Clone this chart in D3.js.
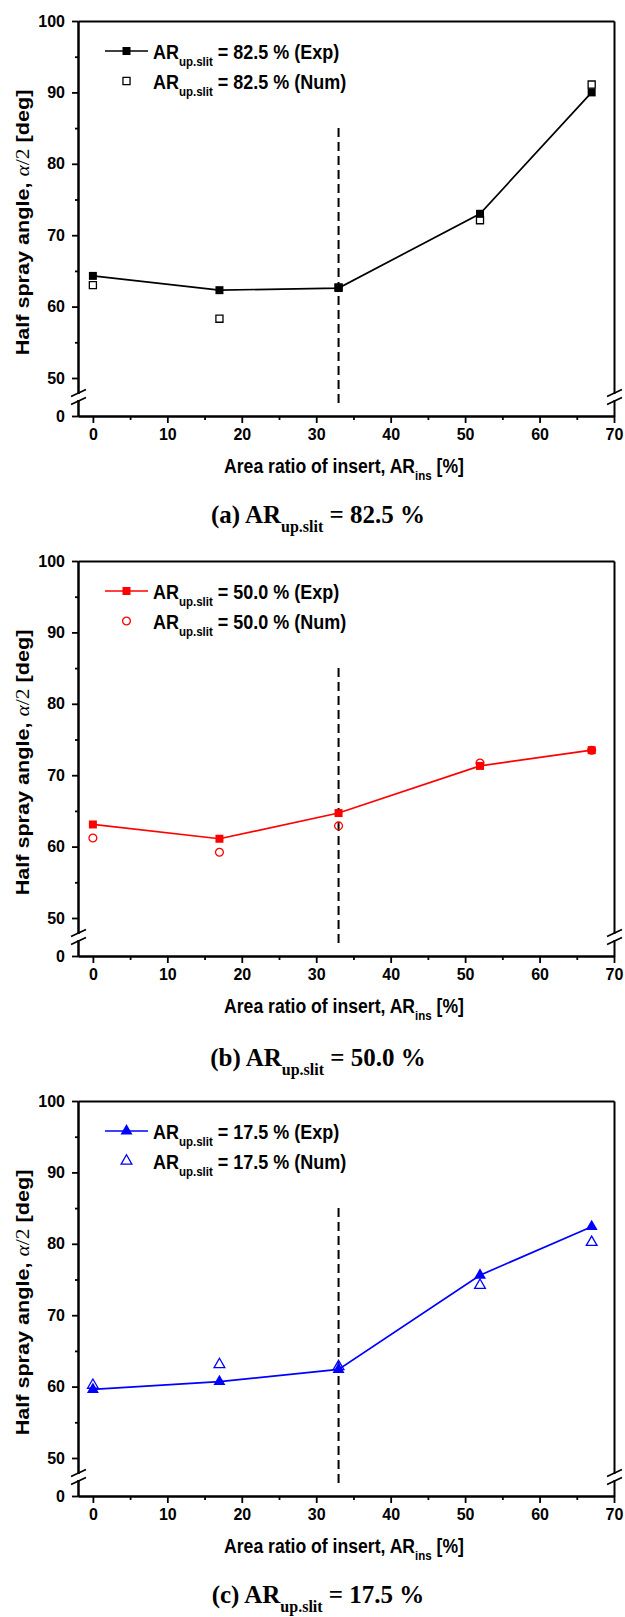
<!DOCTYPE html>
<html>
<head>
<meta charset="utf-8">
<script src="https://cdn.jsdelivr.net/npm/d3@7"></script>
<style>
  body { margin: 0; background: #fff; }
  svg { display: block; }
  .tick text { font-family: 'Liberation Sans', Arial, sans-serif; font-weight: bold; font-size: 16px; fill: #000; }
  .tick line { stroke: #000; stroke-width: 1.8px; }
  .domain { stroke: #000; stroke-width: 2px; }
</style>
</head>
<body>
<div id="chart"></div>
<script>
// area ratio of insert, same for the three slit cases
const arIns = [0, 17, 33, 52, 67]

// half spray angle [deg]
const expA = [64.3, 62.3, 62.6, 73.0, 90.0]
const numA = [63.0, 58.3, 62.7, 72.1, 91.1]
const expB = [63.1, 61.1, 64.7, 71.3, 73.5]
const numB = [61.2, 59.2, 62.9, 71.7, 73.5]
const expC = [59.6, 60.7, 62.4, 75.6, 82.4]
const numC = [60.2, 63.1, 62.8, 74.2, 80.2]

const slitLabels = ['82.5', '50.0', '17.5']
const panelTags = ['(a)', '(b)', '(c)']

const xTicks = [0, 10, 20, 30, 40, 50, 60, 70]
const xMinor = [5, 15, 25, 35, 45, 55, 65]
const yTicks = [0, 50, 60, 70, 80, 90, 100]
const yMinor = [55, 65, 75, 85, 95]
const dashX = 33
const dashSpan = [16, 85]

const colors = ['#000000', '#ff0000', '#0000ff']
const expShapes = [d3.symbolSquare, d3.symbolSquare, d3.symbolTriangle]
const numShapes = [d3.symbolSquare, d3.symbolCircle, d3.symbolTriangle]
const expSize = [64, 64, 62]
const numSize = [50, 48, 50]

const panels = [
  {exp: expA, num: numA},
  {exp: expB, num: numB},
  {exp: expC, num: numC}
].map((p, i) => ({...p, slit: slitLabels[i], tag: panelTags[i], color: colors[i]}))

const width = 625, height = 1617
const margin = {left: 78}
const plotW = 536, plotH = 395
const panelTops = [21, 561, 1101]
const captionY = [523, 1066, 1603]
const sans = "'Liberation Sans', Arial, sans-serif"
const serif = "'Liberation Serif', 'Times New Roman', serif"

const svg = d3.select('#chart').append('svg')
  .attr('width', width)
  .attr('height', height)

const x = d3.scaleLinear().domain([-2, 70]).range([0, plotW])
// broken axis: 0..50 squeezed into the gap at the bottom
const y = d3.scaleLinear().domain([0, 50, 100]).range([plotH, plotH - 38, 0])

function subText(sel, parts, size, subSize) {
  // parts: [main, sub, rest]
  sel.append('tspan').attr('font-size', size).text(parts[0])
  sel.append('tspan').attr('font-size', subSize).attr('dy', size * 0.34).text(parts[1])
  sel.append('tspan').attr('font-size', size).attr('dy', -size * 0.34).text(parts[2])
}

panels.forEach((p, i) => {
  const g = svg.append('g')
    .attr('transform', `translate(${margin.left}, ${panelTops[i]})`)

  // frame: top and right without ticks
  g.append('g').call(d3.axisTop(x).tickValues([]).tickSizeOuter(0))
  g.append('g').attr('transform', `translate(${plotW}, 0)`)
    .call(d3.axisRight(y).tickValues([]).tickSizeOuter(0))

  // x axis
  g.append('g').attr('transform', `translate(0, ${plotH})`)
    .call(d3.axisBottom(x).tickValues(xMinor).tickSize(4).tickFormat('').tickSizeOuter(0))
  g.append('g').attr('transform', `translate(0, ${plotH})`)
    .call(d3.axisBottom(x).tickValues(xTicks).tickSize(7).tickPadding(6).tickSizeOuter(0))

  // y axis
  g.append('g')
    .call(d3.axisLeft(y).tickValues(yMinor).tickSize(3).tickFormat('').tickSizeOuter(0))
  g.append('g')
    .call(d3.axisLeft(y).tickValues(yTicks).tickSize(6).tickPadding(7).tickSizeOuter(0))

  // break marks on both vertical axes
  const yb = y(25)
  ;[0, plotW].forEach(bx => {
    g.append('rect')
      .attr('x', bx - 3).attr('y', yb - 3)
      .attr('width', 6).attr('height', 6)
      .attr('fill', '#fff')
    ;[-4, 4].forEach(off => {
      g.append('line')
        .attr('x1', bx - 7).attr('y1', yb + off + 3.5)
        .attr('x2', bx + 8).attr('y2', yb + off - 3.5)
        .attr('stroke', '#000').attr('stroke-width', 1.8)
    })
  })

  // dashed marker line
  g.append('line')
    .attr('x1', x(dashX)).attr('x2', x(dashX))
    .attr('y1', y(dashSpan[1])).attr('y2', y(dashSpan[0]))
    .attr('stroke', '#000').attr('stroke-width', 2)
    .attr('stroke-dasharray', '9,5')

  const pts = arIns.map((a, k) => ({a, exp: p.exp[k], num: p.num[k]}))

  g.append('path')
    .datum(pts)
    .attr('fill', 'none')
    .attr('stroke', p.color)
    .attr('stroke-width', 1.7)
    .attr('d', d3.line().x(d => x(d.a)).y(d => y(d.exp)))

  const sym = d3.symbol().type(expShapes[i]).size(expSize[i])
  g.selectAll('.exp')
    .data(pts)
    .enter().append('path')
    .attr('class', 'exp')
    .attr('transform', d => `translate(${x(d.a)}, ${y(d.exp)})`)
    .attr('d', sym)
    .attr('fill', p.color)

  const symOpen = d3.symbol().type(numShapes[i]).size(numSize[i])
  g.selectAll('.num')
    .data(pts)
    .enter().append('path')
    .attr('class', 'num')
    .attr('transform', d => `translate(${x(d.a)}, ${y(d.num)})`)
    .attr('d', symOpen)
    .attr('fill', 'none')
    .attr('stroke', p.color)
    .attr('stroke-width', 1.3)

  // legend
  const lg = g.append('g').attr('transform', 'translate(27, 30)')
  lg.append('line')
    .attr('x1', 0).attr('x2', 43).attr('y1', 0).attr('y2', 0)
    .attr('stroke', p.color).attr('stroke-width', 1.7)
  lg.append('path').attr('transform', 'translate(21.5, 0)').attr('d', sym).attr('fill', p.color)
  lg.append('path').attr('transform', 'translate(21.5, 30)').attr('d', symOpen)
    .attr('fill', 'none').attr('stroke', p.color).attr('stroke-width', 1.3)
  ;['Exp', 'Num'].forEach((kind, r) => {
    lg.append('text')
      .attr('transform', `translate(48, ${8 + r * 30}) scale(1, 1.15)`)
      .attr('font-family', sans).attr('font-weight', 'bold')
      .call(subText, ['AR', 'up.slit', ` = ${p.slit} % (${kind})`], 18, 11.5)
  })

  // axis titles
  g.append('text')
    .attr('transform', `translate(${plotW / 2 - 2}, 452) scale(1, 1.1)`)
    .attr('text-anchor', 'middle')
    .attr('font-family', sans).attr('font-weight', 'bold')
    .call(subText, ['Area ratio of insert, AR', 'ins', ' [%]'], 17.6, 11.5)

  const yt = g.append('text')
    .attr('transform', `translate(-49, ${plotH / 2 + 4}) rotate(-90) scale(1.2, 1)`)
    .attr('text-anchor', 'middle')
    .attr('font-family', sans).attr('font-weight', 'bold').attr('font-size', 18)
  yt.append('tspan').text('Half spray angle, ')
  yt.append('tspan').attr('font-family', serif).attr('font-style', 'italic').attr('font-weight', 'normal').text('α')
  yt.append('tspan').attr('font-family', serif).attr('font-weight', 'normal').text('/2')
  yt.append('tspan').text(' [deg]')

  // caption
  svg.append('text')
    .attr('x', 318).attr('y', captionY[i])
    .attr('text-anchor', 'middle')
    .attr('font-family', serif).attr('font-weight', 'bold')
    .call(subText, [`${p.tag} AR`, 'up.slit', ` = ${p.slit} %`], 25, 16)
})
</script>
</body>
</html>
